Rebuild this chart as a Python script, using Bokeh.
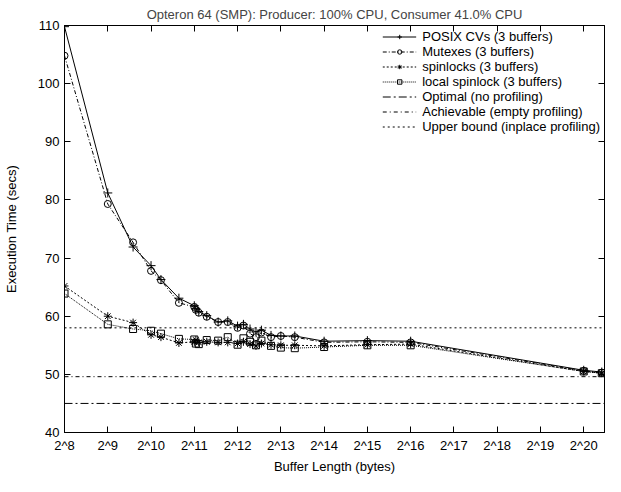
from bokeh.plotting import figure
from bokeh.models import FixedTicker, LogAxis, LinearAxis, Range1d, Legend, LegendItem
from bokeh.embed import file_html
from bokeh.resources import INLINE

# ---- data ----
buffer_bytes = [256, 512, 768, 1024, 1200, 1600, 2048, 2100, 2200, 2500, 3000, 3500,
                4096, 4500, 5000, 5500, 6000, 7000, 8192, 10240, 16384, 32768, 65536,
                1048576, 1400000]
posix_cvs = [109.8, 81.2, 71.9, 68.7, 66.3, 63.1, 61.8, 61.3, 60.8, 60.1, 59.0, 59.2,
             58.3, 58.6, 57.8, 57.3, 57.6, 56.7, 56.6, 56.6, 55.7, 55.8, 55.7, 50.7, 50.4]
mutexes = [104.8, 79.3, 72.7, 67.8, 66.2, 62.3, 61.6, 61.1, 60.6, 59.9, 59.0, 59.0,
           58.0, 58.4, 57.0, 56.4, 57.2, 56.4, 56.6, 56.4, 55.5, 55.6, 55.5, 50.6, 50.3]
spinlocks = [65.2, 60.0, 58.9, 56.8, 56.4, 55.4, 55.6, 55.9, 55.5, 55.6, 55.5, 55.5,
             55.3, 55.6, 55.2, 54.9, 55.3, 55.1, 55.0, 55.0, 54.9, 55.1, 55.2, 50.5, 50.2]
local_spinlock = [63.9, 58.6, 57.8, 57.5, 57.0, 56.1, 56.0, 55.3, 55.2, 55.9, 55.8, 56.4,
                  55.1, 56.2, 55.6, 55.0, 55.8, 54.9, 54.6, 54.5, 54.7, 55.0, 55.0, 50.5, 50.2]
optimal = 45.0
achievable = 49.6
upper_bound = 58.0

x_tick_exponents = list(range(8, 21))
x_tick_labels = ["2^%d" % e for e in x_tick_exponents]
y_ticks = [40, 50, 60, 70, 80, 90, 100, 110]
x_min, x_max = 2 ** 8, 2 ** 20.48
y_min, y_max = 40, 110

FONT = "Liberation Sans"
FS = "13px"

p = figure(width=605, height=476, x_axis_type="log",
           x_range=Range1d(x_min, x_max), y_range=Range1d(y_min, y_max),
           output_backend="svg", toolbar_location=None,
           min_border_left=58, min_border_right=1, min_border_top=24, min_border_bottom=30,
           title="Opteron 64 (SMP): Producer: 100% CPU, Consumer 41.0% CPU")
p.title.text_font = FONT
p.title.text_font_size = FS
p.title.text_font_style = "normal"
p.title.align = "center"
p.title.standoff = 8
p.grid.visible = False
p.outline_line_color = "black"
p.outline_line_width = 1
p.background_fill_color = "white"
p.border_fill_color = "white"

xt = [2 ** e for e in x_tick_exponents]

xa = p.xaxis[0]
xa.ticker = FixedTicker(ticks=xt)
xa.major_label_overrides = {t: lab for t, lab in zip(xt, x_tick_labels)}
ya = p.yaxis[0]
ya.ticker = FixedTicker(ticks=y_ticks)

for ax in (xa, ya):
    ax.major_tick_in = 6
    ax.major_tick_out = 0
    ax.minor_tick_line_color = None
    ax.major_label_text_font = FONT
    ax.major_label_text_font_size = FS
    ax.major_label_text_color = "black"
    ax.axis_label_text_font = FONT
    ax.axis_label_text_font_size = FS
    ax.axis_label_text_font_style = "normal"
    ax.axis_label_text_color = "black"
    ax.axis_line_color = "black"
    ax.major_tick_line_color = "black"
xa.axis_label = "Buffer Length (bytes)"
ya.axis_label = "Execution Time (secs)"
xa.major_label_standoff = 5
xa.axis_label_standoff = 3
ya.major_label_standoff = 5
ya.axis_label_standoff = 16

# mirrored tick marks on the top and right borders (no labels)
top = LogAxis(ticker=FixedTicker(ticks=xt), major_tick_in=6, major_tick_out=0,
              minor_tick_line_color=None, major_label_text_font_size="0px",
              major_label_text_color=None, major_label_text_alpha=0,
              major_label_standoff=0, axis_line_color="black")
p.add_layout(top, "above")
right = LinearAxis(ticker=FixedTicker(ticks=y_ticks), major_tick_in=6, major_tick_out=0,
                   minor_tick_line_color=None, major_label_text_font_size="0px",
                   major_label_text_color=None, major_label_text_alpha=0,
                   major_label_standoff=0, axis_line_color="black")
p.add_layout(right, "right")

items = []
series = [
    ("POSIX CVs (3 buffers)", posix_cvs, "solid", "cross", 9),
    ("Mutexes (3 buffers)", mutexes, "4 2 1 2", "circle", 7),
    ("spinlocks (3 buffers)", spinlocks, "2 2", "asterisk", 8),
    ("local spinlock (3 buffers)", local_spinlock, "1 1", "square", 7),
]
for label, ys, dash, marker, size in series:
    lr = p.line(buffer_bytes, ys, line_color="black", line_width=1, line_dash=dash)
    sr = p.scatter(buffer_bytes, ys, marker=marker, size=size, line_color="black",
                   fill_color=None, line_width=1)
    items.append(LegendItem(label=label, renderers=[lr, sr]))

hlines = [
    ("Optimal (no profiling)", optimal, "8 3 2 3"),
    ("Achievable (empty profiling)", achievable, "4 3 1 3"),
    ("Upper bound (inplace profiling)", upper_bound, "2 3"),
]
for label, yv, dash in hlines:
    r = p.line([x_min, x_max], [yv, yv], line_color="black", line_width=1, line_dash=dash)
    items.append(LegendItem(label=label, renderers=[r]))

leg = Legend(items=items, location="top_right", border_line_color=None,
             background_fill_alpha=0, label_text_font=FONT, label_text_font_size=FS,
             label_text_color="black",
             glyph_width=34, glyph_height=11, label_height=11, spacing=-4,
             padding=3, margin=4, label_standoff=6)
p.add_layout(leg)

open("out.html", "w").write(file_html(p, INLINE))
